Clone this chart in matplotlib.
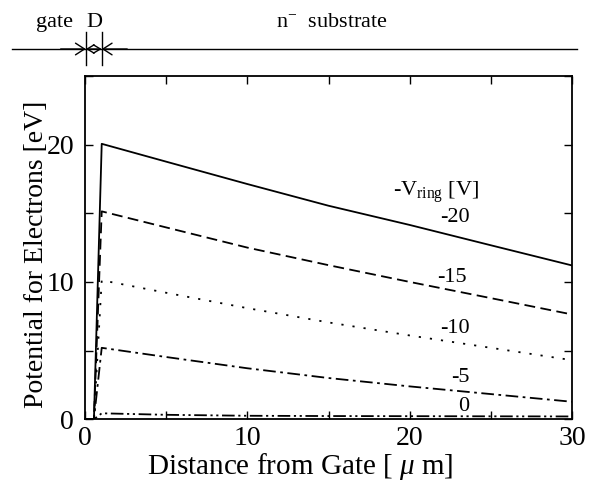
import matplotlib
matplotlib.use("Agg")
import matplotlib.pyplot as plt
from matplotlib.transforms import blended_transform_factory

plt.rcParams['font.family'] = ['Liberation Serif', 'DejaVu Serif']
plt.rcParams['mathtext.fontset'] = 'custom'
plt.rcParams['mathtext.rm'] = 'Liberation Serif'
plt.rcParams['mathtext.it'] = 'Liberation Serif:italic'

# Data
x = [0, 0.55, 1.03, 5, 10, 15, 20, 25, 30]
v20 = [0, 0, 20.06, 18.76, 17.13, 15.55, 14.15, 12.67, 11.2]
v15 = [0, 0, 15.14, 13.97, 12.50, 11.22, 10.00, 8.82, 7.63]
v10 = [0, 0, 10.12, 9.21, 8.09, 7.05, 6.10, 5.20, 4.30]
v5 = [0, 0, 5.20, 4.53, 3.71, 3.00, 2.39, 1.83, 1.27]
v0 = [0, 0, 0.43, 0.32, 0.25, 0.23, 0.22, 0.21, 0.20]
labels = ['-20', '-15', '-10', '-5', '0']
label_pos = [(22.8, 14.7), (22.6, 10.35), (22.8, 6.64), (23.1, 3.07), (23.3, 0.89)]

fig = plt.figure(figsize=(5.94, 4.90), dpi=100)
ax = fig.add_axes([85/594, 1-419.2/490, (572-85)/594, (419.2-76)/490])

lw = 1.3
ax.plot(x, v20, color='black', lw=lw, linestyle='-')
ax.plot(x, v15, color='black', lw=lw, linestyle=(0, (6, 3)))
ax.plot(x, v10, color='black', lw=lw, linestyle=(0, (1.2, 5)))
ax.plot(x, v5, color='black', lw=lw, linestyle=(0, (7, 2.5, 1.5, 2.5)))
ax.plot(x, v0, color='black', lw=lw, linestyle=(0, (7, 2, 1.2, 2, 1.2, 2)))

ax.set_xlim(0, 30)
ax.set_ylim(0, 25)
ax.set_xticks([0, 10, 20, 30])
ax.set_xticks([5, 15, 25], minor=True)
ax.set_yticks([0, 10, 20])
ax.set_yticks([5, 15, 25], minor=True)
ax.tick_params(which='both', direction='in', top=True, right=True, length=5.5, width=1.0)
ax.tick_params(which='major', labelsize=20)
ax.tick_params(axis='x', which='major', pad=5)
ax.tick_params(axis='y', which='major', pad=8)
for s in ax.spines.values():
    s.set_linewidth(1.3)

ax.set_xlabel('Distance from Gate [ $\\mathit{\\mu}$ m]', fontsize=21)
ax.xaxis.set_label_coords(0.442, -0.092)
ax.set_ylabel('Potential for Electrons [eV]', fontsize=20)
ax.yaxis.set_label_coords(-0.074, 0.481)

ax.text(21.6, 16.5, '-V$_{\\rm ring}$ [V]', fontsize=16, ha='center', va='center')
for lab, (lx, ly) in zip(labels, label_pos):
    ax.text(lx, ly, lab, fontsize=16, ha='center', va='center')

# Header schematic
tr = blended_transform_factory(ax.transData, fig.transFigure)
yh = 1 - 49/490
ax.plot([-4.5, 30.3], [yh, yh], color='black', lw=1.0, transform=tr, clip_on=False)
for xv in [0.05, 1.03]:
    ax.plot([xv, xv], [1-32/490, 1-65/490], color='black', lw=1.0, transform=tr, clip_on=False)
ap = dict(arrowstyle='<->,head_length=0.5,head_width=0.3', color='black', lw=1.0, shrinkA=0, shrinkB=0)
ax.annotate('', xy=(0.05, yh), xytext=(1.03, yh), xycoords=tr, textcoords=tr, arrowprops=ap, annotation_clip=False)
ap2 = dict(arrowstyle='->,head_length=0.65,head_width=0.42', color='black', lw=1.0, shrinkA=0, shrinkB=0)
ax.annotate('', xy=(0.05, yh), xytext=(-1.5, yh), xycoords=tr, textcoords=tr, arrowprops=ap2, annotation_clip=False)
ax.annotate('', xy=(1.03, yh), xytext=(2.6, yh), xycoords=tr, textcoords=tr, arrowprops=ap2, annotation_clip=False)

ybase = 1 - 27/490
ax.text(-1.9, ybase, 'gate', fontsize=16, ha='center', va='baseline', transform=tr)
ax.text(0.55, ybase, 'D', fontsize=16, ha='center', va='baseline', transform=tr)
ax.text(15.2, ybase, 'n$^{-}$  substrate', fontsize=16, ha='center', va='baseline', transform=tr)

fig.savefig('out.png', dpi=100)
